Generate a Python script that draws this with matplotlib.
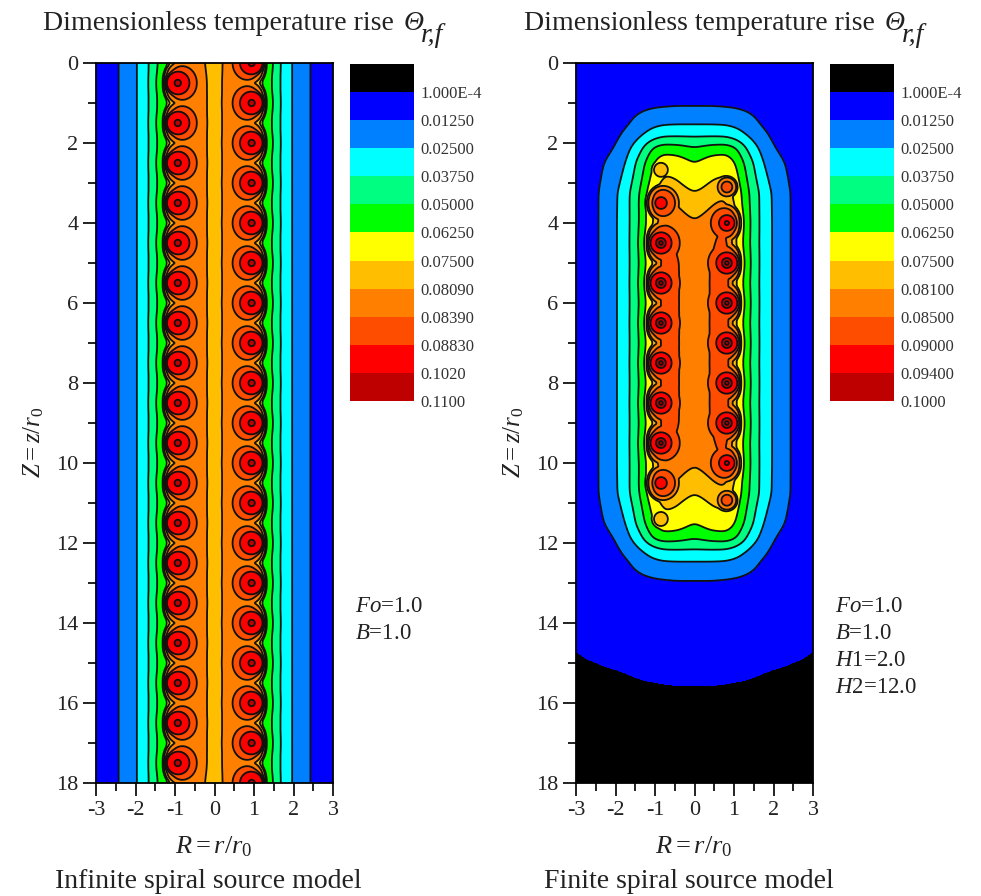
import numpy as np
import matplotlib
matplotlib.use("Agg")
import matplotlib.pyplot as plt

plt.rcParams['font.family'] = ['Liberation Serif', 'DejaVu Sans']
plt.rcParams['mathtext.fontset'] = 'custom'
plt.rcParams['mathtext.rm'] = 'Liberation Serif'
plt.rcParams['mathtext.it'] = 'Liberation Serif:italic'

W, H = 981, 896

band_colors = ['#000000', '#0000ff', '#0080ff', '#00ffff', '#00ff80', '#00ff00',
               '#ffff00', '#ffbf00', '#ff8000', '#ff4d00', '#ff0000', '#bf0000']
inf_levels = [1e-4, 0.0125, 0.025, 0.0375, 0.05, 0.0625, 0.075, 0.0809, 0.0839, 0.0883, 0.102, 0.11]
fin_levels = [1e-4, 0.0125, 0.025, 0.0375, 0.05, 0.0625, 0.075, 0.081, 0.085, 0.09, 0.094, 0.1]
inf_labels = ['1.000E-4', '0.01250', '0.02500', '0.03750', '0.05000', '0.06250',
              '0.07500', '0.08090', '0.08390', '0.08830', '0.1020', '0.1100']
fin_labels = ['1.000E-4', '0.01250', '0.02500', '0.03750', '0.05000', '0.06250',
              '0.07500', '0.08100', '0.08500', '0.09000', '0.09400', '0.1000']

# infinite model: values read across |r|
inf_r = [0, 0.22, 0.5, 0.75, 0.93, 1.12, 1.30, 1.49, 1.68, 1.96, 2.42, 3.0]
inf_theta = [0.0793, 0.0805, 0.0815, 0.0822, 0.080, 0.064, 0.0555, 0.047, 0.0365, 0.025, 0.0125, 0.004]
inf_left_z = [0.5, 1.5, 2.5, 3.5, 4.5, 5.5, 6.5, 7.5, 8.5, 9.5, 10.5, 11.5, 12.5, 13.5, 14.5, 15.5, 16.5, 17.5]
inf_right_z = [0, 1, 2, 3, 4, 5, 6, 7, 8, 9, 10, 11, 12, 13, 14, 15, 16, 17, 18]
inf_left_r = -0.93
inf_right_r = 0.94

# rings round a source: value, radius on the inner side, radius on the outer side
inf_ring = [0.1095, 0.102, 0.0883, 0.0839, 0.0825, 0.078, 0.0]
inf_ring_in = [0, 0.08, 0.29, 0.48, 0.58, 0.68, 0.85]
inf_ring_out = [0, 0.08, 0.28, 0.30, 0.32, 0.35, 0.5]

# waviness added by each source to the contours beside it
tail_d_in = [0, 0.5, 0.8, 1.1, 1.5]
tail_in = [0.0008, 0.0006, 0.0003, 0.0001, 0.0]
tail_d_out = [0, 0.3, 0.45, 0.6, 0.8, 1.0]
tail_out = [0.008, 0.008, 0.004, 0.0015, 0.0003, 0.0]

# finite model: values read on rows of z and columns of |r|
fin_r = [0, 0.45, 0.8, 1.05, 1.15, 1.3, 1.45, 1.65, 1.95, 2.4, 3.0]
fin_z_upper = [1.1, 1.55, 1.85, 2.1, 2.5, 3.25, 4, 5, 7]
row_z11 = [0.0125, 0.0125, 0.012, 0.0115, 0.011, 0.0105, 0.0095, 0.0085, 0.0065, 0.0045, 0.002]
row_z15 = [0.025, 0.025, 0.0245, 0.0225, 0.0215, 0.019, 0.0165, 0.0125, 0.0085, 0.0055, 0.003]
row_z18 = [0.0375, 0.0375, 0.037, 0.033, 0.03, 0.0265, 0.023, 0.018, 0.0112, 0.0062, 0.0035]
row_z21 = [0.05, 0.054, 0.055, 0.0505, 0.045, 0.0375, 0.03, 0.0235, 0.0137, 0.007, 0.004]
row_z25 = [0.0625, 0.07, 0.0715, 0.062, 0.056, 0.047, 0.04, 0.0285, 0.0185, 0.0105, 0.0045]
row_z32 = [0.075, 0.0785, 0.0795, 0.072, 0.065, 0.054, 0.0465, 0.0365, 0.0245, 0.0125, 0.005]
row_z40 = [0.081, 0.083, 0.084, 0.075, 0.0665, 0.0555, 0.0465, 0.0365, 0.025, 0.0125, 0.005]
row_z50 = [0.0825, 0.0843, 0.0855, 0.075, 0.0665, 0.0555, 0.0465, 0.0365, 0.025, 0.0125, 0.005]
row_z70 = [0.083, 0.0842, 0.0856, 0.075, 0.0665, 0.0555, 0.0465, 0.0365, 0.025, 0.0125, 0.005]
fin_far_z = [0, 0.08, 0.35, 14.0, 14.65, 15.1, 15.5, 16.5, 18]
far_z00 = [0.0] * 11
far_z01 = [0.00005] * 11
far_z03 = [0.002, 0.002, 0.002, 0.002, 0.002, 0.0018, 0.0016, 0.0014, 0.0012, 0.001, 0.0008]
far_z140 = [0.0035, 0.0034, 0.0032, 0.003, 0.0028, 0.0025, 0.0022, 0.0019, 0.0012, 0.0006, 0.0003]
far_z146 = [0.0015, 0.0015, 0.0014, 0.0013, 0.0012, 0.0011, 0.001, 0.0008, 0.0006, 0.00025, 0.0001]
far_z151 = [0.0003, 0.0003, 0.0003, 0.0003, 0.00027, 0.00024, 0.0002, 0.00015, 0.0001, 0.00006, 0.00002]
far_z155 = [0.0001, 0.0001, 0.00009, 0.00007, 0.00007, 0.00006, 0.00005, 0.00004, 0.00003, 0.00002, 0.00001]
far_z165 = [0.0] * 11
far_z180 = [0.0] * 11

fin_src_r = [-0.85] * 10 + [0.82] * 9
fin_src_z = [2.67, 3.5, 4.5, 5.5, 6.5, 7.5, 8.5, 9.5, 10.5, 11.4,
             3.1, 4, 5, 6, 7, 8, 9, 10, 10.93]
# weaker sources at the ends of the block
fin_src_shift = [0.4, 0.12, 0, 0, 0, 0, 0, 0, 0.12, 0.4,
                 0.34, 0.07, 0, 0, 0, 0, 0, 0.07, 0.34]
fin_src_drop = [0.006, 0, 0, 0, 0, 0, 0, 0, 0, 0.006,
                0, 0, 0, 0, 0, 0, 0, 0, 0]
fin_ring = [0.104, 0.099, 0.094, 0.09, 0.085, 0.08, 0.0]
fin_ring_in = [0, 0.06, 0.12, 0.27, 0.48, 0.6, 0.8]
fin_ring_out = [0, 0.06, 0.12, 0.27, 0.31, 0.35, 0.6]

r_axis = np.linspace(-3, 3, 481)
z_axis = np.linspace(0, 18, 1441)
R, Z = np.meshgrid(r_axis, z_axis)


def smooth(field, sigma):
    # light blur so read-off rows don't leave kinks in the contours
    step = z_axis[1] - z_axis[0]
    half = int(3 * sigma / step)
    x = np.arange(-half, half + 1) * step
    kernel = np.exp(-0.5 * (x / sigma) ** 2)
    kernel /= kernel.sum()
    padded = np.pad(field, half, mode='edge')
    padded = np.apply_along_axis(np.convolve, 0, padded, kernel, mode='same')
    padded = np.apply_along_axis(np.convolve, 1, padded, kernel, mode='same')
    return padded[half:-half, half:-half]


def add_sources(base, src_r, src_z, src_shift, src_drop, ring_tables):
    values, radius_in, radius_out = ring_tables
    tail = np.zeros_like(base)
    ring = np.zeros_like(base)
    for r0, z0, shift, drop in zip(src_r, src_z, src_shift, src_drop):
        dr = R - r0
        d = np.hypot(dr, Z - z0)
        w = ((dr * np.sign(r0) / np.maximum(d, 1e-6) + 1) / 2) ** 2
        w = w * max(0.0, 1 - shift / 0.3)
        # on the outer side the rings bunch up, so map that distance to its inner equivalent
        eff = (1 - w) * (d + shift) + w * np.interp(d + shift, radius_out, radius_in)
        ring = np.maximum(ring, np.interp(eff, radius_in, values) - drop)
        strength = max(0.0, 1 - shift / 0.5)
        tail += strength * ((1 - w) * np.interp(d, tail_d_in, tail_in) + w * np.interp(d, tail_d_out, tail_out))
    return np.maximum(base + tail, ring)


def infinite_field():
    base = np.interp(np.abs(R), inf_r, inf_theta)
    src_r = [inf_left_r] * len(inf_left_z) + [inf_right_r] * len(inf_right_z)
    src_z = inf_left_z + inf_right_z
    none = [0] * len(src_z)
    field = add_sources(smooth(base, 0.03), src_r, src_z, none, none, (inf_ring, inf_ring_in, inf_ring_out))
    return smooth(field, 0.012)


def finite_field():
    upper = [row_z11, row_z15, row_z18, row_z21, row_z25, row_z32, row_z40, row_z50, row_z70]
    rows_z = [fin_far_z[0], fin_far_z[1], fin_far_z[2]] + fin_z_upper
    rows = [far_z00, far_z01, far_z03] + upper
    # lower half of the block mirrors the upper half about z = 7
    for z, row in zip(fin_z_upper[-2::-1], upper[-2::-1]):
        rows_z.append(14 - z)
        rows.append(row)
    rows_z += fin_far_z[3:]
    rows += [far_z140, far_z146, far_z151, far_z155, far_z165, far_z180]
    table = np.array(rows)
    across = np.array([np.interp(np.abs(r_axis), fin_r, row) for row in table])
    base = np.array([np.interp(z_axis, rows_z, across[:, i]) for i in range(len(r_axis))]).T
    field = add_sources(smooth(base, 0.1), fin_src_r, fin_src_z, fin_src_shift, fin_src_drop,
                        (fin_ring, fin_ring_in, fin_ring_out))
    return smooth(field, 0.012)


def px_axes(fig, x0, y0, x1, y1):
    return fig.add_axes([x0 / W, 1 - y1 / H, (x1 - x0) / W, (y1 - y0) / H])


def px_text(fig, x, y, s, **kw):
    fig.text(x / W, 1 - y / H, s, **kw)


def draw_panel(fig, left, field, levels, labels, title_x, caption, caption_x, notes):
    ax = px_axes(fig, left, 63, left + 237, 783)
    edges = [-1.0] + levels
    ax.contourf(r_axis, z_axis, np.clip(field, -0.5, levels[-1] - 1e-5), levels=edges, colors=band_colors)
    ax.contour(r_axis, z_axis, field, levels=levels[1:], colors='#111111', linewidths=1.3)
    ax.set_xlim(-3, 3)
    ax.set_ylim(18, 0)
    ax.set_xticks(range(-3, 4))
    ax.set_xticks(np.arange(-2.5, 3, 1), minor=True)
    ax.set_yticks(range(0, 19, 2))
    ax.set_yticks(range(1, 19, 2), minor=True)
    ax.tick_params(which='major', length=9.6, width=1.4, labelsize=16, pad=3, color='#222222', labelcolor='#222222')
    ax.tick_params(which='minor', length=6, width=1.4, color='#222222')
    ax.set_xticklabels(['-3', '-2', '-1', '0', '1', '2', '3'])
    for spine in ax.spines.values():
        spine.set_linewidth(1.3)
    ax.spines['top'].set_color('black')

    px_text(fig, title_x, 30, 'Dimensionless temperature rise', fontsize=20, color='#222222', va='baseline')
    px_text(fig, title_x + 361, 30, 'Θ', fontsize=20, style='italic', color='#222222', va='baseline')
    px_text(fig, title_x + 378, 42, 'r,f', fontsize=20, style='italic', color='#222222', va='baseline')
    px_text(fig, left + 118, 853, r'$\mathit{R{=}r/r}_{\mathit{0}}$', fontsize=19, color='#222222',
            ha='center', va='baseline')
    px_text(fig, left - 62, 442, r'$\mathit{Z{=}z/r}_{\mathit{0}}$', fontsize=18, color='#222222', rotation=90,
            ha='center', va='center')
    px_text(fig, caption_x, 888, caption, fontsize=20, color='#222222', va='baseline')

    for i, note in enumerate(notes):
        px_text(fig, left + 259, 612 + 27 * i, note, fontsize=16.5, color='#222222', va='baseline')

    # colour key, one swatch per band
    cax = px_axes(fig, left + 254, 64, left + 318, 401)
    cax.bar(np.zeros(12), np.ones(12), bottom=np.arange(12), width=1, color=band_colors, align='center')
    cax.set_xlim(-0.5, 0.5)
    cax.set_ylim(12, 0)
    cax.axis('off')
    for i, label in enumerate(labels):
        cax.text(0.6, i + 1.07, label, fontsize=12, color='#333333', va='center', ha='left', clip_on=False)


fig = plt.figure(figsize=(W / 100, H / 100), dpi=100)
draw_panel(fig, 96, infinite_field(), inf_levels, inf_labels, 43, 'Infinite spiral source model', 55,
           [r'$\mathit{Fo}$=1.0', r'$\mathit{B}$=1.0'])
draw_panel(fig, 576, finite_field(), fin_levels, fin_labels, 524, 'Finite spiral source model', 544,
           [r'$\mathit{Fo}$=1.0', r'$\mathit{B}$=1.0', r'$\mathit{H}$1=2.0', r'$\mathit{H}$2=12.0'])
fig.savefig('out.png', dpi=100)
